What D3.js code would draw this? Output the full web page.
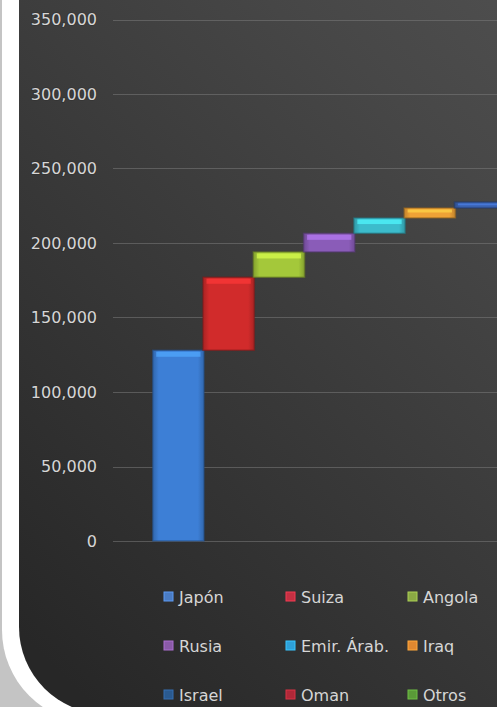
<!DOCTYPE html>
<html>
<head>
<meta charset="utf-8">
<script src="https://cdn.jsdelivr.net/npm/d3@7"></script>
<style>
  html, body { margin: 0; padding: 0; background: #bdbdbd; overflow: hidden; }
  svg { display: block; }
  text { font-family: "DejaVu Sans", sans-serif; }
</style>
</head>
<body>
<svg id="chart" width="497" height="707"></svg>
<script>
// ---- data ----
const categories = ["Japón", "Suiza", "Angola", "Rusia", "Emir. Árab.", "Iraq", "Israel", "Oman", "Otros"];
const values = [128000, 49000, 17000, 12500, 10300, 6700, 4000, 2500, 20000];
const barColors = ["#3d7fd6", "#d12b2b", "#a4c83a", "#8a5cb8", "#3cbccc", "#eea236", "#3a62b0", "#b02828", "#6a9a30"];
const legendColors = ["#4a7cc4", "#c53042", "#8aa844", "#8a5aa8", "#2ea0d8", "#e08830", "#2a5a90", "#b02838", "#5a9a38"];
const yTicks = [0, 50000, 100000, 150000, 200000, 250000, 300000, 350000];

// ---- setup ----
const W = 497, H = 707;
const svg = d3.select("#chart");
const defs = svg.append("defs");

// background gradient
const bg = defs.append("linearGradient").attr("id", "bgGrad")
  .attr("x1", "0.9").attr("y1", "0").attr("x2", "0.1").attr("y2", "1");
bg.append("stop").attr("offset", "0").attr("stop-color", "#5e5e5e");
bg.append("stop").attr("offset", "0.45").attr("stop-color", "#474747");
bg.append("stop").attr("offset", "1").attr("stop-color", "#272727");

// outer grey
svg.append("rect").attr("x", 0).attr("y", 0).attr("width", W).attr("height", H).attr("fill", "#c4c4c4");
// white frame
svg.append("rect").attr("x", 2).attr("y", -300).attr("width", 800).attr("height", 300 + 723)
  .attr("rx", 93).attr("ry", 93).attr("fill", "#ffffff");
// dark chart area
svg.append("rect").attr("x", 19).attr("y", -300).attr("width", 800).attr("height", 300 + 714)
  .attr("rx", 87).attr("ry", 87).attr("fill", "url(#bgGrad)");

// ---- scales ----
const y = d3.scaleLinear().domain([0, 350000]).range([541, 19.5]);
const x = d3.scaleBand().domain(categories).range([113, 646]).paddingInner(0).paddingOuter(0.8);

// gridlines
svg.append("g").selectAll("line").data(yTicks).join("line")
  .attr("x1", 113).attr("x2", W)
  .attr("y1", d => Math.round(y(d)) + 0.5).attr("y2", d => Math.round(y(d)) + 0.5)
  .attr("stroke", "#7a7a7a").attr("stroke-opacity", 0.55).attr("stroke-width", 1);

// y axis labels
const yAxis = d3.axisLeft(y).tickValues(yTicks).tickFormat(d3.format(",")).tickSize(0).tickPadding(16);
const gy = svg.append("g").attr("transform", "translate(113,0)").call(yAxis);
gy.select(".domain").remove();
gy.selectAll("text")
  .attr("fill", "#d6d6d6")
  .attr("font-size", "16px")
  .attr("font-family", "DejaVu Sans, sans-serif")
  .attr("stroke", "#2a2a2a").attr("stroke-width", 2).attr("stroke-opacity", 0.35)
  .attr("paint-order", "stroke");

// ---- waterfall bars ----
let cum = 0;
const bars = categories.map((c, i) => {
  const base = cum;
  cum += values[i];
  return { cat: c, base: base, top: cum, color: barColors[i] };
});

bars.forEach((b, i) => {
  const g = defs.append("linearGradient").attr("id", "barG" + i)
    .attr("x1", "0").attr("y1", "0").attr("x2", "1").attr("y2", "0");
  const col = d3.color(b.color);
  g.append("stop").attr("offset", "0").attr("stop-color", col.darker(0.6));
  g.append("stop").attr("offset", "0.12").attr("stop-color", col);
  g.append("stop").attr("offset", "0.88").attr("stop-color", col);
  g.append("stop").attr("offset", "1").attr("stop-color", col.darker(0.6));
});

const gb = svg.append("g");
gb.selectAll("rect.bar").data(bars).join("rect").attr("class", "bar")
  .attr("x", d => x(d.cat) - 0.5)
  .attr("width", x.bandwidth() + 1)
  .attr("y", d => y(d.top))
  .attr("height", d => y(d.base) - y(d.top))
  .attr("fill", (d, i) => `url(#barG${i})`)
  .attr("stroke", d => d3.color(d.color).darker(1.4))
  .attr("stroke-opacity", 0.6)
  .attr("stroke-width", 1.5);

// top highlight
gb.selectAll("rect.hi").data(bars).join("rect").attr("class", "hi")
  .attr("x", d => x(d.cat) + 3)
  .attr("width", x.bandwidth() - 6)
  .attr("y", d => y(d.top) + 1.5)
  .attr("height", d => Math.min(5, (y(d.base) - y(d.top)) * 0.3))
  .attr("fill", d => d3.color(d.color).brighter(0.8))
  .attr("opacity", 0.7);

// ---- legend ----
const legX = [164, 286, 408];
const legY = [597, 646, 695];
const lg = svg.append("g");
categories.forEach((c, i) => {
  const cx = legX[i % 3], cy = legY[Math.floor(i / 3)];
  lg.append("rect").attr("x", cx).attr("y", cy - 5).attr("width", 9).attr("height", 9)
    .attr("fill", legendColors[i])
    .attr("stroke", d3.color(legendColors[i]).brighter(0.6)).attr("stroke-width", 1);
  lg.append("text").attr("x", cx + 15).attr("y", cy).attr("dy", "0.36em")
    .attr("fill", "#d6d6d6").attr("font-size", "16px")
    .text(c);
});
</script>
</body>
</html>
